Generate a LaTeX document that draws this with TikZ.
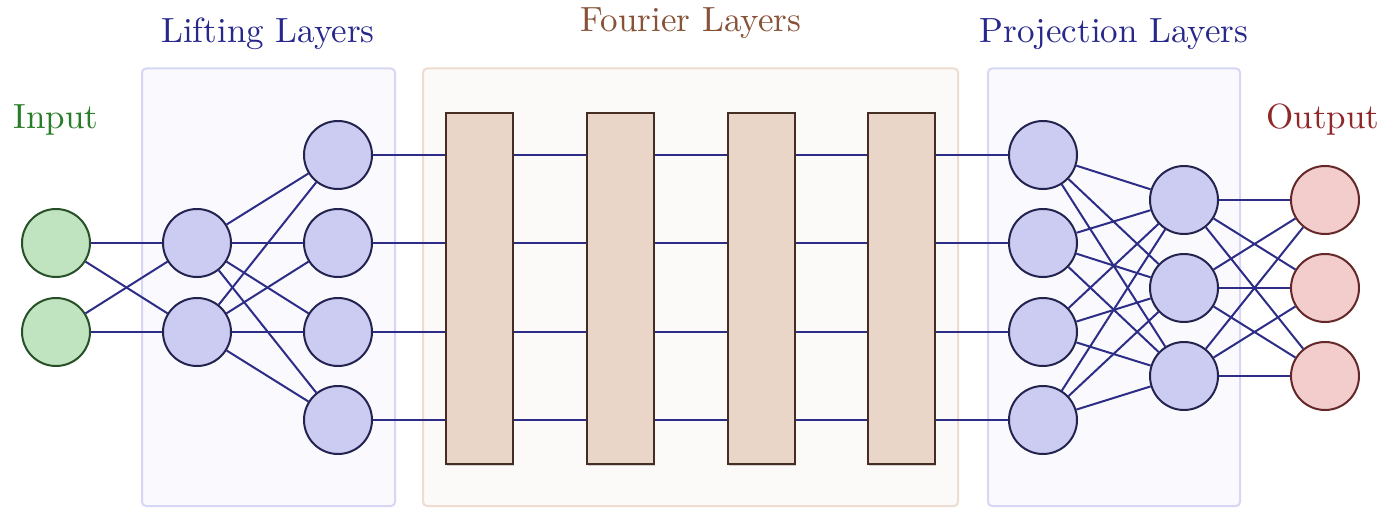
\documentclass[tikz,border=0pt]{standalone}
\usetikzlibrary{shadows}
\definecolor{neufill}{RGB}{204,204,242}
\definecolor{neudraw}{RGB}{35,35,80}
\definecolor{infill}{RGB}{191,228,191}
\definecolor{indraw}{RGB}{40,80,40}
\definecolor{outfill}{RGB}{243,204,204}
\definecolor{outdraw}{RGB}{100,40,40}
\definecolor{liftfill}{RGB}{249,249,254}
\definecolor{liftdraw}{RGB}{215,215,245}
\definecolor{fourfill}{RGB}{251,250,249}
\definecolor{fourdraw}{RGB}{238,220,208}
\definecolor{blockfill}{RGB}{233,214,201}
\definecolor{blockdraw}{RGB}{70,45,35}
\definecolor{wire}{RGB}{45,45,135}
\definecolor{lifttext}{RGB}{40,40,140}
\definecolor{fourtext}{RGB}{135,82,55}
\definecolor{intext}{RGB}{40,125,40}
\definecolor{outtext}{RGB}{145,40,40}
\tikzset{
  neuron/.style={circle, inner sep=0pt, minimum size=34pt, line width=1pt, draw=neudraw, fill=neufill},
  inneuron/.style={neuron, draw=indraw, fill=infill},
  outneuron/.style={neuron, draw=outdraw, fill=outfill},
  fblock/.style={rectangle, inner sep=0pt, minimum width=33.5pt, minimum height=175.5pt,
    line width=1pt, draw=blockdraw, fill=blockfill,
    drop shadow={shadow xshift=0.6pt, shadow yshift=-0.6pt, opacity=0.35}},
  groupbox/.style={line width=1pt, rounded corners=2pt},
  wireline/.style={draw=wire, line width=1pt},
  title/.style={font=\fontsize{10}{12}\selectfont, scale=1.75, transform shape,
    anchor=base, inner sep=0pt}
}
\begin{document}
\begin{tikzpicture}[x=0.5pt, y=-0.5pt]
\useasboundingbox (0,0) rectangle (1387,508);

% group panels
\draw[groupbox, draw=liftdraw, fill=liftfill] (142,68.5) rectangle (395,506);
\draw[groupbox, draw=fourdraw, fill=fourfill] (423,68.5) rectangle (958,506);
\draw[groupbox, draw=liftdraw, fill=liftfill] (988,68.5) rectangle (1240,506);

% titles
\node[title, text=intext]   (tIn)   at (56,128)   {Input};
\node[title, text=lifttext] (tLift) at (268,43)   {Lifting Layers};
\node[title, text=fourtext] (tFour) at (691,32)   {Fourier Layers};
\node[title, text=lifttext] (tProj) at (1114,43)  {Projection Layers};
\node[title, text=outtext]  (tOut)  at (1323,128) {Output};

% input neurons
\node[inneuron] (I1) at (56,243) {};
\node[inneuron] (I2) at (56,332) {};

% lifting neurons
\node[neuron] (A1) at (197,243) {};
\node[neuron] (A2) at (197,332) {};
\node[neuron] (B1) at (338,155) {};
\node[neuron] (B2) at (338,243) {};
\node[neuron] (B3) at (338,332) {};
\node[neuron] (B4) at (338,420) {};

% Fourier blocks
\node[fblock] (F1) at (479.5,288.8) {};
\node[fblock] (F2) at (620,288.8) {};
\node[fblock] (F3) at (761,288.8) {};
\node[fblock] (F4) at (901.5,288.8) {};

% projection neurons
\node[neuron] (P1) at (1043,155) {};
\node[neuron] (P2) at (1043,243) {};
\node[neuron] (P3) at (1043,332) {};
\node[neuron] (P4) at (1043,420) {};
\node[neuron] (Q1) at (1184,200) {};
\node[neuron] (Q2) at (1184,288) {};
\node[neuron] (Q3) at (1184,376) {};

% output neurons
\node[outneuron] (O1) at (1325,200) {};
\node[outneuron] (O2) at (1325,288) {};
\node[outneuron] (O3) at (1325,376) {};

% dense connections
\foreach \a in {I1,I2} \foreach \b in {A1,A2} \draw[wireline] (\a) -- (\b);
\foreach \a in {A1,A2} \foreach \b in {B1,B2,B3,B4} \draw[wireline] (\a) -- (\b);
\foreach \a in {P1,P2,P3,P4} \foreach \b in {Q1,Q2,Q3} \draw[wireline] (\a) -- (\b);
\foreach \a in {Q1,Q2,Q3} \foreach \b in {O1,O2,O3} \draw[wireline] (\a) -- (\b);

% channels through the Fourier blocks
\foreach \b/\p in {B1/P1,B2/P2,B3/P3,B4/P4} {
  \draw[wireline] (\b.east) -- (\b.east -| F1.west);
  \draw[wireline] (F1.east |- \b) -- (F2.west |- \b);
  \draw[wireline] (F2.east |- \b) -- (F3.west |- \b);
  \draw[wireline] (F3.east |- \b) -- (F4.west |- \b);
  \draw[wireline] (F4.east |- \p) -- (\p.west);
}
\end{tikzpicture}
\end{document}
